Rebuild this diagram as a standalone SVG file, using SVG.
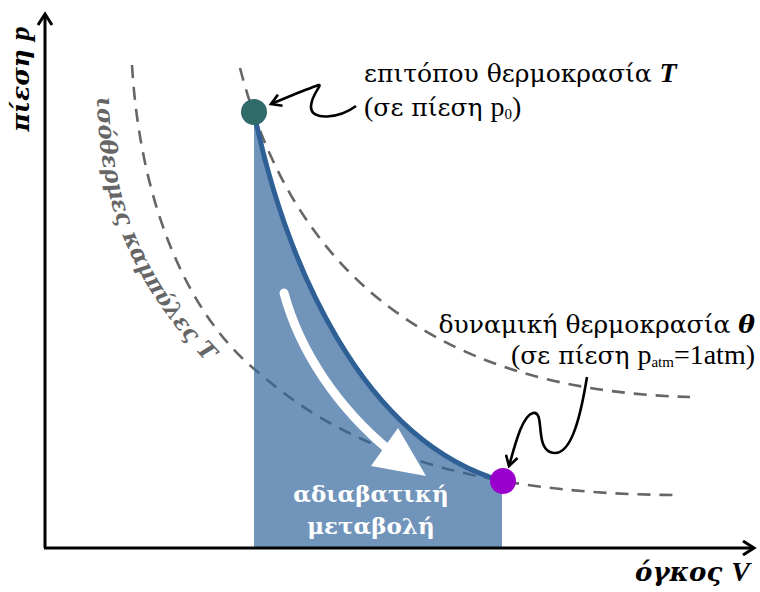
<svg xmlns="http://www.w3.org/2000/svg" xmlns:xlink="http://www.w3.org/1999/xlink" width="760" height="592" viewBox="0 0 760 592">
<style>
.iso{fill:none;stroke:#666;stroke-width:2.6;stroke-dasharray:13 9}
.axis{fill:none;stroke:#000;stroke-width:3}
.sq{fill:none;stroke:#000;stroke-width:2.6}
.gr{font-family:"DejaVu Serif",serif}
.lt{font-family:"Liberation Serif","DejaVu Serif",serif;font-size:28px}
.sub{font-family:"Liberation Serif","DejaVu Serif",serif;font-size:15px}
.lbl{font-family:"DejaVu Serif",serif;font-size:25px;fill:#000}
.bi{font-weight:bold;font-style:italic}
.wt{font-family:"DejaVu Serif",serif;font-weight:bold;font-size:23px;fill:#fff;text-anchor:middle}
</style>
<defs>
<marker id="ah" markerWidth="14" markerHeight="14" refX="11" refY="7" orient="auto" markerUnits="userSpaceOnUse">
<path d="M1,1 L11,7 L1,13" fill="none" stroke="#000" stroke-width="2.6"/>
</marker>
<marker id="axh" markerWidth="16" markerHeight="18" refX="13" refY="9" orient="auto" markerUnits="userSpaceOnUse">
<path d="M2,2 L13,9 L2,16" fill="none" stroke="#000" stroke-width="3"/>
</marker>
<path id="isoText" d="M97,97 C99,200 128,290 230,385"/>
</defs>

<g id="isotherms">
<path class="iso" d="M132,65 C140,200 185,310 253,368 C300,408 400,495 680,495"/>
<path class="iso" d="M240,68 C290,260 420,390 690,397"/>
</g>

<g id="area">
<path d="M254,113 C285,260 360,440 502,481 L502,548 L254,548 Z" fill="#33669C" fill-opacity="0.7"/>
</g>

<g id="axes">
<line class="axis" x1="45" y1="548" x2="45" y2="14" marker-end="url(#axh)"/>
<line class="axis" x1="44" y1="548" x2="754" y2="548" marker-end="url(#axh)"/>
<text class="gr bi" font-size="25" transform="translate(29,79) rotate(-90)" text-anchor="middle">πίεση <tspan class="lt" font-size="26">p</tspan></text>
<text class="gr bi" font-size="26" x="750" y="581" text-anchor="end">όγκος <tspan class="lt" font-size="27">V</tspan></text>
</g>

<g id="adiabat">
<path d="M254,113 C285,260 360,440 502,481" fill="none" stroke="#2E6096" stroke-width="5"/>
</g>

<g id="connectors">
<path class="sq" d="M356,106 C340,118 310,122 311,106 C312,92 326,82 316,86 C302,91 288,97 271,104" marker-end="url(#ah)"/>
<path class="sq" d="M587,377 C580,420 570,460 550,452 C535,446 545,410 533,413 C522,416 515,445 509,466" marker-end="url(#ah)"/>
</g>

<g id="process-arrow">
<path d="M284,293 C300,352 338,408 390,451" fill="none" stroke="#fff" stroke-width="9" stroke-linecap="round"/>
<polygon points="426,476 371,466 398,428" fill="#fff"/>
</g>

<g id="node-start">
<circle cx="254" cy="112" r="13" fill="#2F6B68"/>
</g>
<g id="node-end">
<circle cx="503" cy="481" r="13" fill="#9A00CC"/>
</g>

<g id="label-T">
<text class="lbl" x="364" y="82">επιτόπου θερμοκρασία <tspan class="lt bi">T</tspan></text>
<text class="lbl" x="364" y="116"><tspan class="lt">(</tspan>σε πίεση <tspan class="lt">p</tspan><tspan class="sub" dy="3">0</tspan><tspan class="lt" dy="-3">)</tspan></text>
</g>

<g id="label-theta">
<text class="lbl" x="755" y="333" text-anchor="end">δυναμική θερμοκρασία <tspan class="bi">θ</tspan></text>
<text class="lbl" x="755" y="364" text-anchor="end"><tspan class="lt">(</tspan>σε πίεση <tspan class="lt">p</tspan><tspan class="sub" dy="3">atm</tspan><tspan class="lt" dy="-3">=1atm)</tspan></text>
</g>

<g id="label-adiabatic">
<text class="wt" x="371" y="502">αδιαβατική</text>
<text class="wt" x="371" y="534">μεταβολή</text>
</g>

<g id="label-isotherms">
<text class="gr bi" font-size="23" fill="#666"><textPath xlink:href="#isoText">ισόθερμες καμπύλες Τ</textPath></text>
</g>
</svg>
